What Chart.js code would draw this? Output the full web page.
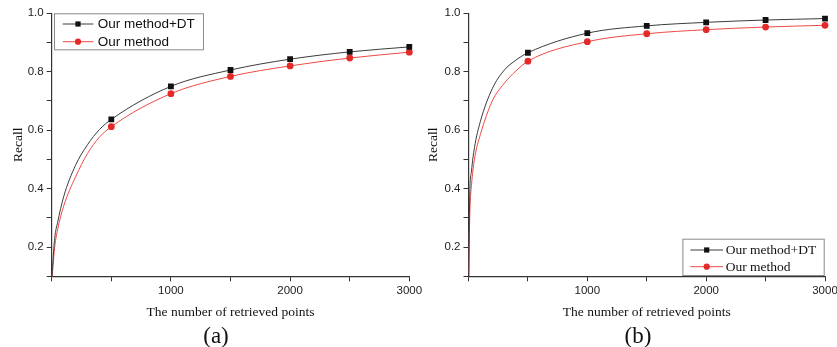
<!DOCTYPE html>
<html>
<head>
<meta charset="utf-8">
<script src="https://cdn.jsdelivr.net/npm/chart.js@4.4.1/dist/chart.umd.min.js"></script>
<style>
  html, body { margin: 0; padding: 0; background: #fff; width: 837px; height: 347px; overflow: hidden; }
  .panel { position: absolute; top: 0; height: 347px; }
  #wrapA { left: 0; width: 440px; }
  #wrapB { left: 420px; width: 440px; }
  .tag { position: absolute; top: 323px; width: 60px; text-align: center; line-height: 24px;
         font: 23px 'Liberation Serif', 'Times New Roman', serif; color: #111; }
</style>
</head>
<body>
<div class="panel" id="wrapA"><canvas id="chartA"></canvas></div>
<div class="panel" id="wrapB"><canvas id="chartB"></canvas></div>
<div class="tag" style="left:186px">(a)</div>
<div class="tag" style="left:608px">(b)</div>
<script>
// values
const xPoints = [0, 10, 25, 50, 100, 200, 300, 400, 500, 1000, 1500, 2000, 2500, 3000]
const markX = [500, 1000, 1500, 2000, 2500, 3000]

const dtA = [0.08, 0.15, 0.23, 0.285, 0.372, 0.48, 0.55, 0.602, 0.637, 0.750, 0.806, 0.843, 0.868, 0.885]
const oursA = [0.08, 0.13, 0.20, 0.26, 0.34, 0.44, 0.52, 0.576, 0.612, 0.725, 0.784, 0.820, 0.847, 0.867]

const dtB = [0.04, 0.37, 0.46, 0.54, 0.63, 0.742, 0.805, 0.84, 0.865, 0.932, 0.957, 0.969, 0.977, 0.982]
const oursB = [0.04, 0.30, 0.41, 0.50, 0.585, 0.70, 0.76, 0.803, 0.836, 0.903, 0.930, 0.944, 0.953, 0.959]

const yTicks = [0.2, 0.4, 0.6, 0.8, 1.0]
const xTicks = [1000, 2000, 3000]

const SANS = "'Liberation Sans', Arial, sans-serif"
const SERIF = "'Liberation Serif', 'Times New Roman', serif"
const AXIS = '#333'
const DT_LINE = '#3c3c3c'
const DT_MARK = '#111'
const OUR_LINE = '#ee4a45'
const OUR_MARK = '#e42a28'

function series(values, label, opts) {
  return {
    label,
    data: xPoints.map((x, i) => ({ x, y: values[i] })),
    borderColor: opts.line,
    backgroundColor: opts.mark,
    pointBackgroundColor: opts.mark,
    pointBorderColor: opts.mark,
    pointBorderWidth: 0,
    pointStyle: opts.style,
    pointRadius: ctx => (markX.includes(ctx.raw && ctx.raw.x) ? opts.radius : 0),
    pointHoverRadius: 0,
    borderWidth: 1,
    cubicInterpolationMode: 'monotone',
    clip: { left: 1, right: 8, top: 8, bottom: 0 },
    legendMark: opts.legendMark,
  }
}

const insideLegend = {
  id: 'insideLegend',
  afterDraw(chart, args, o) {
    const { ctx, chartArea } = chart
    const x0 = o.corner === 'topLeft' ? chartArea.left + o.dx : chartArea.right - o.width + o.dx
    const y0 = o.corner === 'topLeft' ? chartArea.top + o.dy : chartArea.bottom - o.height + o.dy
    ctx.save()
    ctx.strokeStyle = '#8a8a8a'
    ctx.lineWidth = 1
    ctx.fillStyle = '#fff'
    ctx.fillRect(x0, y0, o.width, o.height)
    ctx.strokeRect(x0 + 0.5, y0 + 0.5, o.width, o.height)
    chart.data.datasets.forEach((ds, i) => {
      const cy = y0 + o.rows[i]
      ctx.strokeStyle = ds.borderColor
      ctx.lineWidth = 1
      ctx.beginPath()
      ctx.moveTo(x0 + o.lineFrom, cy)
      ctx.lineTo(x0 + o.lineTo, cy)
      ctx.stroke()
      ctx.fillStyle = ds.pointBackgroundColor
      const mx = x0 + (o.lineFrom + o.lineTo) / 2
      if (ds.pointStyle === 'rect') {
        ctx.fillRect(mx - ds.legendMark, cy - ds.legendMark, ds.legendMark * 2, ds.legendMark * 2)
      } else {
        ctx.beginPath()
        ctx.arc(mx, cy, ds.legendMark, 0, Math.PI * 2)
        ctx.fill()
      }
      ctx.fillStyle = '#111'
      ctx.font = o.font
      ctx.textBaseline = 'middle'
      ctx.fillText(ds.label, x0 + o.textX, cy + 0.5)
    })
    ctx.restore()
  },
}

function buildScales(yWidth, yTitlePad) {
  return {
    x: {
      type: 'linear',
      min: 0,
      max: 3000,
      ticks: {
        stepSize: 500,
        autoSkip: false,
        maxRotation: 0,
        padding: 3,
        color: '#222',
        font: { family: SANS, size: 11.5 },
        callback: v => (xTicks.includes(v) ? String(v) : ''),
      },
      grid: { drawOnChartArea: false, drawTicks: true, tickLength: 5, color: AXIS, lineWidth: 1 },
      border: { color: AXIS, width: 1.2 },
      title: { display: true, text: 'The number of retrieved points', color: '#111', font: { family: SERIF, size: 13.5 }, padding: 0 },
      afterFit: s => { s.height = 43.8 },
    },
    y: {
      min: 0.1,
      max: 1.0,
      ticks: {
        stepSize: 0.1,
        autoSkip: false,
        padding: 3,
        color: '#222',
        font: { family: SANS, size: 11.5 },
        callback: v => {
          const r = Math.round(v * 10) / 10
          return yTicks.includes(r) ? r.toFixed(1) : ''
        },
      },
      grid: { drawOnChartArea: false, drawTicks: true, tickLength: 5, color: AXIS, lineWidth: 1 },
      border: { color: AXIS, width: 1.2 },
      title: { display: true, text: 'Recall', color: '#111', font: { family: SERIF, size: 13.5 }, padding: { top: yTitlePad, bottom: 0 } },
      afterFit: s => { s.width = yWidth },
    },
  }
}

function makeChart(id, dt, ours, cfg) {
  const dtOpts = { line: DT_LINE, mark: DT_MARK, style: 'rect', radius: 4.1, legendMark: 2.6 }
  const ourOpts = { line: OUR_LINE, mark: OUR_MARK, style: 'circle', radius: 3.4, legendMark: 3.1 }
  return new Chart(document.getElementById(id).getContext('2d'), {
    type: 'line',
    data: {
      datasets: [series(dt, 'Our method+DT', dtOpts), series(ours, 'Our method', ourOpts)],
    },
    options: {
      responsive: true,
      maintainAspectRatio: false,
      animation: false,
      events: [],
      layout: { padding: { left: 0, right: cfg.padRight, top: 13.3, bottom: 26.9 } },
      scales: buildScales(cfg.yWidth, cfg.yTitlePad),
      plugins: {
        legend: { display: false },
        tooltip: { enabled: false },
        insideLegend: cfg.legend,
      },
    },
    plugins: [insideLegend],
  })
}

makeChart('chartA', dtA, oursA, {
  padRight: 30.7,
  yWidth: 51.7,
  yTitlePad: 9.9,
  legend: {
    corner: 'topLeft', dx: 2.3, dy: 0, width: 149, height: 36,
    rows: [10.7, 28.4], lineFrom: 8.7, lineTo: 39.3, textX: 43.7,
    font: "13.5px 'Liberation Sans', Arial, sans-serif",
  },
})

makeChart('chartB', dtB, oursB, {
  padRight: 35,
  yWidth: 48.5,
  yTitlePad: 4.9,
  legend: {
    corner: 'bottomRight', dx: -1.3, dy: -1.3, width: 141.3, height: 36.3,
    rows: [11.3, 28], lineFrom: 8, lineTo: 40.6, textX: 43.3,
    font: "13.5px 'Liberation Serif', 'Times New Roman', serif",
  },
})
</script>
</body>
</html>
